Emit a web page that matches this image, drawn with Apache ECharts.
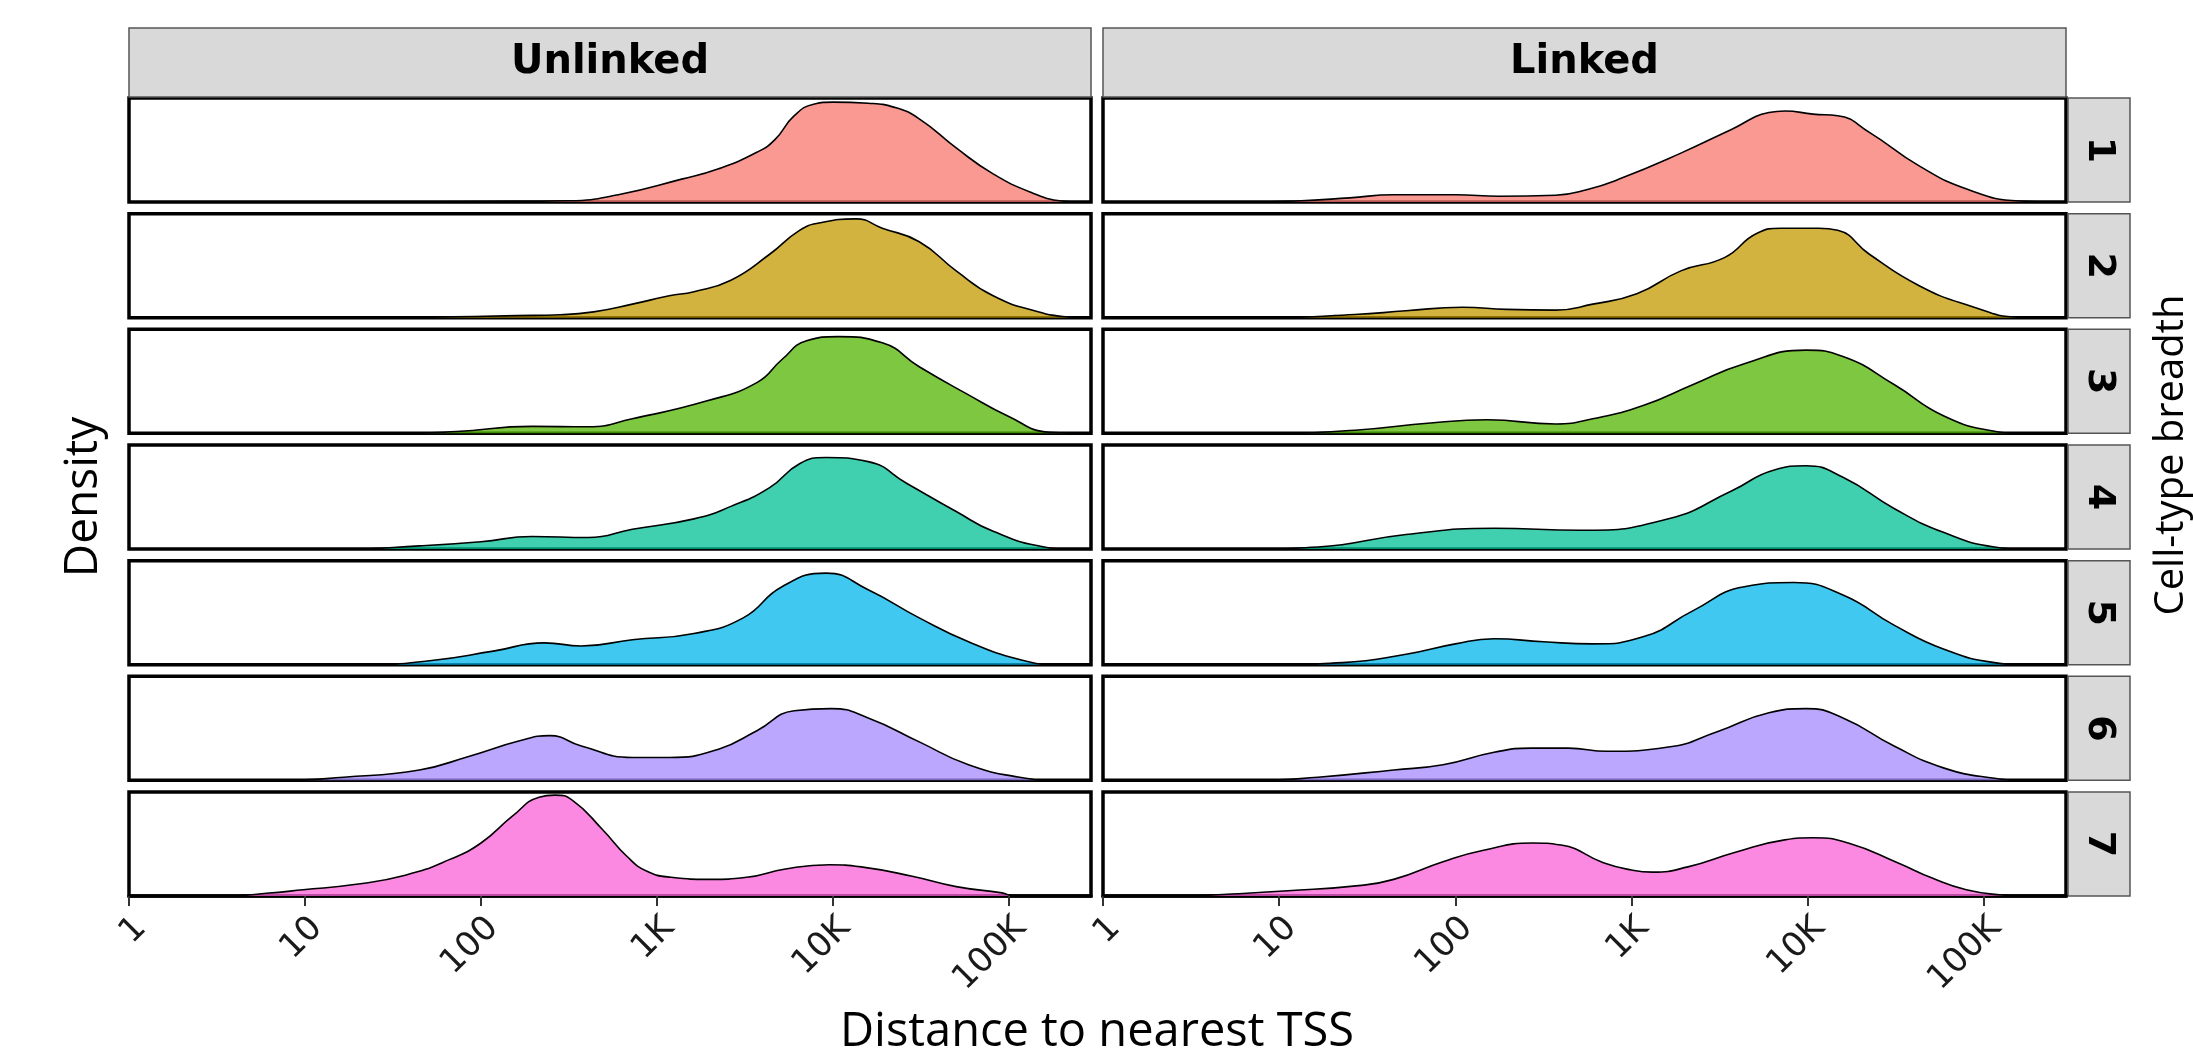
<!DOCTYPE html>
<html>
<head>
<meta charset="utf-8">
<script src="https://cdn.jsdelivr.net/npm/echarts@6/dist/echarts.min.js"></script>
<style>
  html, body { margin: 0; padding: 0; background: #fff; }
  #chart { width: 2193px; height: 1053px; }
</style>
</head>
<body>
<div id="chart"></div>
<script>
// ---- Data: [log10(distance to nearest TSS), relative density] ----
const columns = ['Unlinked', 'Linked'];
const breadth = ['1', '2', '3', '4', '5', '6', '7'];
const tickValues = [0, 1, 2, 3, 4, 5];
const tickLabels = ['1', '10', '100', '1K', '10K', '100K'];
const xMaxLog = 5.466;
const baseColors = ['#F8766D', '#C49A00', '#53B400', '#00C094', '#00B6EB', '#A58AFF', '#FB61D7'];

const unlinked1 = [[0,0],[1.5,0],[2.0,0.004],[2.5,0.012],[2.78,0.07],[3.14,0.22],[3.35,0.32],[3.57,0.48],[3.67,0.6],[3.78,0.83],[3.89,0.94],[4.0,0.96],[4.2,0.95],[4.35,0.91],[4.49,0.8],[4.7,0.52],[4.91,0.27],[5.13,0.09],[5.3,0.01],[5.4,0]];
const linked1 = [[0,0],[0.8,0],[1.1,0.01],[1.4,0.04],[1.65,0.07],[2.0,0.07],[2.25,0.055],[2.57,0.065],[2.75,0.12],[2.93,0.22],[3.28,0.47],[3.57,0.70],[3.78,0.86],[3.87,0.875],[4.03,0.845],[4.17,0.83],[4.35,0.67],[4.63,0.35],[4.91,0.12],[5.2,0.01],[5.4,0]];
const unlinked2 = [[0,0],[1.4,0],[1.72,0.005],[2.2,0.02],[2.45,0.028],[2.64,0.056],[2.86,0.13],[3.07,0.21],[3.21,0.25],[3.42,0.36],[3.64,0.61],[3.81,0.84],[3.92,0.91],[4.13,0.95],[4.28,0.86],[4.49,0.73],[4.7,0.45],[4.91,0.21],[5.16,0.06],[5.34,0.005],[5.4,0]];
const linked2 = [[0,0],[0.94,0],[1.43,0.03],[1.72,0.066],[2.04,0.1],[2.29,0.08],[2.57,0.073],[2.78,0.13],[3.03,0.23],[3.28,0.45],[3.53,0.58],[3.71,0.81],[3.85,0.86],[4.06,0.86],[4.17,0.84],[4.35,0.61],[4.63,0.31],[4.91,0.12],[5.2,0.005],[5.4,0]];
const unlinked3 = [[0,0],[1.58,0],[1.86,0.017],[2.29,0.067],[2.61,0.063],[2.86,0.14],[3.28,0.31],[3.57,0.49],[3.71,0.71],[3.85,0.89],[4.03,0.93],[4.28,0.87],[4.49,0.64],[4.77,0.37],[4.99,0.17],[5.23,0.01],[5.4,0]];
const linked3 = [[0,0],[0.94,0],[1.43,0.03],[1.86,0.1],[2.18,0.13],[2.57,0.09],[2.78,0.14],[3.07,0.27],[3.35,0.47],[3.64,0.67],[3.99,0.8],[4.2,0.74],[4.49,0.47],[4.77,0.17],[5.06,0.02],[5.2,0],[5.4,0]];
const unlinked4 = [[0,0],[1.22,0],[1.65,0.03],[2.0,0.07],[2.29,0.12],[2.61,0.11],[2.86,0.19],[3.21,0.29],[3.42,0.41],[3.64,0.59],[3.81,0.82],[3.96,0.88],[4.2,0.84],[4.42,0.63],[4.7,0.36],[4.91,0.17],[5.2,0.02],[5.34,0],[5.4,0]];
const linked4 = [[0,0],[0.8,0],[1.22,0.02],[1.72,0.14],[2.22,0.2],[2.71,0.18],[3.21,0.29],[3.57,0.56],[3.81,0.76],[3.99,0.8],[4.2,0.69],[4.49,0.39],[4.77,0.16],[5.06,0.02],[5.23,0],[5.4,0]];
const unlinked5 = [[0,0],[1.36,0],[1.72,0.04],[2.07,0.13],[2.36,0.21],[2.57,0.18],[2.86,0.24],[3.21,0.30],[3.49,0.45],[3.71,0.75],[3.96,0.88],[4.2,0.72],[4.49,0.45],[4.77,0.22],[5.06,0.05],[5.27,0],[5.4,0]];
const linked5 = [[0,0],[0.94,0],[1.36,0.02],[1.72,0.1],[2.0,0.2],[2.22,0.25],[2.5,0.22],[2.78,0.2],[3.07,0.27],[3.35,0.52],[3.64,0.75],[3.92,0.79],[4.2,0.67],[4.49,0.38],[4.77,0.15],[5.06,0.02],[5.23,0],[5.4,0]];
const unlinked6 = [[0,0],[0.87,0],[1.22,0.03],[1.65,0.1],[1.93,0.23],[2.22,0.38],[2.39,0.43],[2.57,0.33],[2.86,0.22],[3.07,0.22],[3.35,0.3],[3.57,0.48],[3.78,0.67],[3.99,0.69],[4.2,0.6],[4.49,0.37],[4.77,0.15],[5.06,0.03],[5.27,0],[5.4,0]];
const linked6 = [[0,0],[0.87,0],[1.22,0.03],[1.65,0.1],[1.93,0.15],[2.22,0.27],[2.43,0.31],[2.64,0.31],[2.86,0.28],[3.21,0.32],[3.49,0.47],[3.78,0.65],[3.99,0.69],[4.2,0.6],[4.49,0.33],[4.77,0.12],[5.06,0.02],[5.23,0],[5.4,0]];
const unlinked7 = [[0,0],[0.56,0],[0.78,0.026],[0.99,0.06],[1.28,0.11],[1.57,0.2],[1.82,0.35],[2.0,0.51],[2.18,0.77],[2.33,0.95],[2.42,0.97],[2.52,0.92],[2.69,0.64],[2.83,0.38],[2.94,0.24],[3.08,0.18],[3.3,0.16],[3.51,0.18],[3.73,0.26],[3.98,0.30],[4.16,0.28],[4.45,0.19],[4.7,0.09],[4.96,0.03],[5.03,0],[5.4,0]];
const linked7 = [[0,0],[0.46,0],[0.73,0.02],[1.05,0.05],[1.45,0.1],[1.65,0.16],[1.93,0.33],[2.16,0.44],[2.44,0.51],[2.6,0.49],[2.84,0.32],[3.0,0.25],[3.12,0.23],[3.32,0.28],[3.59,0.42],[3.87,0.54],[4.03,0.56],[4.23,0.51],[4.51,0.32],[4.71,0.17],[4.9,0.06],[5.1,0.01],[5.22,0],[5.4,0]];

const panelData = [
  [unlinked1, linked1], [unlinked2, linked2], [unlinked3, linked3], [unlinked4, linked4],
  [unlinked5, linked5], [unlinked6, linked6], [unlinked7, linked7]
];

// ---- Layout ----
const colLeft = [129, 1103];
const colWidth = [962, 963];
const rowTop0 = 98, rowPitch = 115.67, panelH = 104;
const stripTop = 28, stripH = 69;
const rStripLeft = 2068, rStripW = 62;
const FONT = "'Open Sans', 'Noto Sans', sans-serif";
const DFONT = "'DejaVu Sans', sans-serif";

const grids = [], xAxes = [], yAxes = [], series = [], graphics = [];
for (let r = 0; r < 7; r++) {
  const top = rowTop0 + r * rowPitch;
  for (let c = 0; c < 2; c++) {
    const idx = grids.length;
    grids.push({ left: colLeft[c], top: top, width: colWidth[c], height: panelH,
      show: true, borderColor: '#000', borderWidth: 3.5, backgroundColor: '#fff', containLabel: false });
    const last = r === 6;
    xAxes.push({ type: 'value', gridIndex: idx, min: 0, max: xMaxLog, interval: 1,
      axisLine: { show: last, lineStyle: { color: '#000', width: 3.5 } }, splitLine: { show: false },
      axisTick: { show: last, length: 10, lineStyle: { color: '#333', width: 2 }, customValues: tickValues },
      axisLabel: { show: last, rotate: 45, align: 'right', verticalAlign: 'top',
        fontSize: 34, color: '#1a1a1a', fontFamily: DFONT, margin: 15,
        customValues: tickValues,
        formatter: v => { const i = tickValues.indexOf(Math.round(v * 1000) / 1000); return i >= 0 ? tickLabels[i] : ''; } } });
    yAxes.push({ type: 'value', gridIndex: idx, min: 0, max: 1, show: false });
    series.push({ type: 'line', xAxisIndex: idx, yAxisIndex: idx, data: panelData[r][c],
      smooth: 0.5, showSymbol: false, silent: true,
      lineStyle: { color: '#000', width: 1.6 },
      areaStyle: { color: baseColors[r], opacity: 0.75 } });
  }
  // right strip
  graphics.push({ type: 'rect', shape: { x: rStripLeft, y: top, width: rStripW, height: panelH },
    style: { fill: '#D9D9D9', stroke: '#555', lineWidth: 1.5 } });
  graphics.push({ type: 'text', x: rStripLeft + rStripW / 2, y: top + panelH / 2, rotation: -Math.PI / 2,
    style: { text: breadth[r], textAlign: 'center', textVerticalAlign: 'middle',
      fontSize: 38, fontWeight: 'bold', fontFamily: DFONT, fill: '#000' } });
}
// top strips
for (let c = 0; c < 2; c++) {
  graphics.push({ type: 'rect', shape: { x: colLeft[c], y: stripTop, width: colWidth[c], height: stripH },
    style: { fill: '#D9D9D9', stroke: '#555', lineWidth: 1.5 } });
  graphics.push({ type: 'text', x: colLeft[c] + colWidth[c] / 2, y: stripTop + stripH / 2,
    style: { text: columns[c], textAlign: 'center', textVerticalAlign: 'middle',
      fontSize: 40, fontWeight: 'bold', fontFamily: DFONT, fill: '#000' } });
}
// titles
graphics.push({ type: 'text', x: 84, y: 497, rotation: Math.PI / 2,
  style: { text: 'Density', textAlign: 'center', textVerticalAlign: 'middle', fontSize: 46, fontFamily: FONT, fill: '#000' } });
graphics.push({ type: 'text', x: 2172, y: 455, rotation: Math.PI / 2,
  style: { text: 'Cell-type breadth', textAlign: 'center', textVerticalAlign: 'middle', fontSize: 40, fontFamily: FONT, fill: '#000' } });
graphics.push({ type: 'text', x: 1097, y: 1033,
  style: { text: 'Distance to nearest TSS', textAlign: 'center', textVerticalAlign: 'middle', fontSize: 47, fontFamily: FONT, fill: '#000' } });

const chart = echarts.init(document.getElementById('chart'), null, { renderer: 'canvas' });
chart.setOption({
  animation: false,
  backgroundColor: '#fff',
  grid: grids, xAxis: xAxes, yAxis: yAxes, series: series,
  graphic: { elements: graphics }
});
</script>
</body>
</html>
